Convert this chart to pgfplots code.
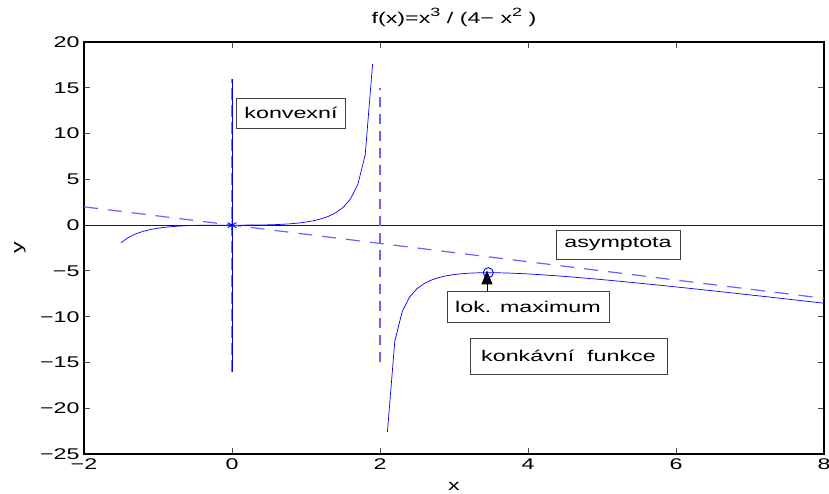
\documentclass[border=0pt]{standalone}
\usepackage{fontspec}
\setmainfont{Liberation Sans}[FakeStretch=1.5]
\usepackage{pgfplots}
\pgfplotsset{compat=1.18}
\usetikzlibrary{arrows.meta}
\newcommand{\ff}{\fontsize{15.5}{17}\selectfont}
\newcommand{\sups}[1]{\raisebox{0.45em}{\fontsize{12}{13}\selectfont #1}}
\begin{document}
\begin{tikzpicture}
\path[use as bounding box] (-84pt,-39pt) rectangle (745pt,454pt);
\begin{axis}[
 at={(0pt,0pt)}, anchor=south west,
 scale only axis, width=740pt, height=412pt,
 xmin=-2, xmax=8, ymin=-25, ymax=20,
 xtick={-2,0,2,4,6,8}, ytick={-25,-20,-15,-10,-5,0,5,10,15,20},
 xticklabels={−2,0,2,4,6,8},
 yticklabels={−25,−20,−15,−10,−5,0,5,10,15,20},
 tick align=inside, major tick length=6pt,
 axis line style={line width=1.2pt},
 tick style={black!70, line width=0.8pt},
 ticklabel style={font=\ff},
 xticklabel style={yshift=-1pt},
 yticklabel style={xshift=-1pt},
 xlabel={x}, ylabel={y},
 xlabel style={font=\ff, at={(axis description cs:0.5,-0.0777)}, anchor=center},
 ylabel style={font=\ff, at={(axis description cs:-0.0865,0.5)}, anchor=center},
 title={f(x)=x\sups{3} / (4− x\sups{2} )},
 title style={font=\ff, at={(axis description cs:0.5,1.045)}, anchor=center},
 clip=false,
]
% y = 0 line
\addplot[blue, line width=0.7pt] coordinates {(-2,0) (8,0)};
% asymptote y = -x
\addplot[blue!60, line width=1.2pt, dash pattern=on 14pt off 10pt] coordinates {(-2,2) (8,-8)};
% vertical at x=0
\addplot[blue!55, line width=2.5pt, dash pattern=on 12pt off 5pt] coordinates {(0,-16) (0,16)};
\addplot[blue, line width=0.7pt] coordinates {(0,-16) (0,16)};
% vertical asymptote x=2
\addplot[blue!60, line width=1.6pt, dash pattern=on 10pt off 7pt] coordinates {(2,-15) (2,15)};
% left branch
\addplot[blue, line width=0.7pt] coordinates {
(-1.5,-1.9286) (-1.4,-1.3451) (-1.3,-0.9511) (-1.2,-0.675) (-1.1,-0.4771)
(-1.0,-0.3333) (-0.9,-0.2285) (-0.8,-0.1524) (-0.7,-0.0977) (-0.6,-0.0593)
(-0.5,-0.0333) (-0.4,-0.0167) (-0.3,-0.0069) (-0.2,-0.0020) (-0.1,-0.00025)
(0,0) (0.1,0.00025) (0.2,0.0020) (0.3,0.0069) (0.4,0.0167) (0.5,0.0333)
(0.6,0.0593) (0.7,0.0977) (0.8,0.1524) (0.9,0.2285) (1.0,0.3333)
(1.1,0.4771) (1.2,0.675) (1.3,0.9511) (1.4,1.3451) (1.5,1.9286)
(1.6,2.8444) (1.7,4.4261) (1.8,7.6737) (1.9,17.5872)
};
% right branch
\addplot[blue, line width=0.7pt] coordinates {
(2.1,-22.588) (2.2,-12.676) (2.3,-9.4318) (2.4,-7.8545) (2.5,-6.9444)
(2.6,-6.3681) (2.7,-5.9827) (2.8,-5.7167) (2.9,-5.5304) (3.0,-5.4)
(3.1,-5.3103) (3.2,-5.2513) (3.3,-5.2158) (3.4,-5.1989) (3.5,-5.1970)
(3.6,-5.2071) (3.7,-5.2274) (3.8,-5.2559) (3.9,-5.2916) (4.0,-5.3333)
(4.1,-5.3802) (4.2,-5.4317) (4.3,-5.4870) (4.4,-5.5458) (4.5,-5.6077)
(4.6,-5.6723) (4.7,-5.7393) (4.8,-5.8084) (4.9,-5.8795) (5.0,-5.9524)
(5.1,-6.0269) (5.2,-6.1028) (5.3,-6.1800) (5.4,-6.2585) (5.5,-6.3381)
(5.6,-6.4187) (5.7,-6.5003) (5.8,-6.5827) (5.9,-6.6659) (6.0,-6.75)
(6.1,-6.8347) (6.2,-6.9201) (6.3,-7.0061) (6.4,-7.0926) (6.5,-7.1797)
(6.6,-7.2674) (6.7,-7.3554) (6.8,-7.4439) (6.9,-7.5328) (7.0,-7.6222)
(7.1,-7.7119) (7.2,-7.8020) (7.3,-7.8924) (7.4,-7.9831) (7.5,-8.0742)
(7.6,-8.1655) (7.7,-8.2571) (7.8,-8.3489) (7.9,-8.4410) (8.0,-8.5333)
};
% inflection point
\addplot[blue, only marks, mark=asterisk, mark size=5pt, line width=0.9pt] coordinates {(0,0)};
% local maximum
\addplot[blue, only marks, mark=o, mark size=5pt, line width=0.9pt] coordinates {(3.464,-5.196)};
% annotations
\tikzset{lbl/.style={draw=black!75, fill=white, line width=0.8pt, inner sep=0pt, font=\ff}}
\node[lbl, minimum width=109pt, minimum height=30pt] at (axis cs:0.797,12.24) {konvexní};
\node[lbl, minimum width=124pt, minimum height=29pt] at (axis cs:5.216,-2.12) {asymptota};
\node[lbl, minimum width=162pt, minimum height=31pt] at (axis cs:4.0,-8.89) {lok. maximum};
\node[lbl, minimum width=197pt, minimum height=36pt] at (axis cs:4.547,-14.3) {konkávní \ funkce};
\draw[line width=0.9pt, -{Triangle[length=14pt,width=11pt]}] (axis cs:3.446,-7.2) -- (axis cs:3.446,-4.95);
\end{axis}
\end{tikzpicture}
\end{document}
